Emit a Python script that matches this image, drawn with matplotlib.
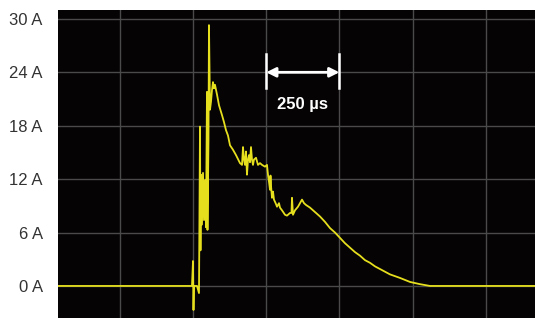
import matplotlib
matplotlib.use("Agg")
import matplotlib.pyplot as plt

# time in microseconds (0 = trigger gridline), current in amperes
time_us = [-470, -3.4, 0.0, 1.7, 3.4, 13.7, 20.5, 23.9, 25.6, 27.3, 30.7, 34.2, 37.6, 41.0, 44.4,
           47.8, 49.5, 52.9, 54.6, 58.1, 61.5, 64.9, 68.3, 71.7, 75.1, 82.0, 88.8, 99.0, 105.9,
           112.7, 119.5, 126.4, 136.6, 146.9, 160.5, 167.4, 170.8, 174.2, 177.6, 181.0, 184.4,
           187.9, 191.3, 194.7, 198.1, 201.5, 204.9, 208.3, 215.2, 222.0, 228.8, 235.7, 245.9,
           252.7, 256.1, 259.6, 263.0, 264.7, 266.4, 269.8, 273.2, 276.6, 283.5, 286.9, 293.7,
           297.1, 303.9, 314.2, 321.0, 331.3, 336.4, 338.1, 341.5, 348.4, 358.6, 365.4, 372.3,
           379.1, 385.9, 399.6, 416.7, 433.8, 450.8, 467.9, 485.0, 502.0, 519.1, 536.2, 553.3,
           570.4, 587.4, 604.5, 621.6, 638.7, 672.8, 707.0, 741.1, 775.3, 809.4, 1180]
current_a = [0, 0, 2.8, -2.7, 0, 0, -0.8, 17.9, 4.0, 12.5, 6.9, 12.7, 7.4, 11.9, 6.6,
             21.8, 6.3, 16.4, 29.3, 19.8, 20.7, 22.0, 22.9, 22.2, 22.6, 21.5, 20.3, 19.2, 18.4,
             17.5, 16.9, 15.8, 15.3, 14.7, 13.8, 13.6, 15.6, 14.2, 13.6, 15.1, 12.5,
             14.2, 14.7, 13.9, 15.6, 14.2, 13.6, 14.2, 14.4, 13.6, 13.8, 13.6, 13.4,
             13.6, 12.5, 11.7, 10.8, 12.4, 11.3, 9.9, 10.6, 9.7, 9.2, 8.9, 9.3,
             8.8, 8.5, 8.0, 7.9, 8.2, 8.2, 9.9, 8.0, 8.5, 8.9, 9.3, 9.7,
             9.3, 9.1, 8.8, 8.3, 7.8, 7.2, 6.5, 6.0, 5.4, 4.8, 4.3, 3.8,
             3.4, 2.9, 2.6, 2.2, 1.9, 1.3, 0.9, 0.45, 0.2, 0, 0]

y_ticks = [0, 6, 12, 18, 24, 30]
y_tick_labels = ["0 A", "6 A", "12 A", "18 A", "24 A", "30 A"]
x_grid = [-250, 0, 250, 500, 750, 1000]

scale_start_us = 250
scale_end_us = 500
scale_label = "250 µs"

fig = plt.figure(figsize=(5.35, 3.18), dpi=100)
ax = fig.add_axes([58 / 535, 0.0, 1 - 58 / 535, 308 / 318])
ax.set_facecolor("#050303")

ax.set_xlim(-461, 1168)
ax.set_ylim(-3.6, 31.0)

for xv in x_grid:
    ax.axvline(xv, color="#4a4a4a", lw=1.0, zorder=1)
for yv in y_ticks:
    ax.axhline(yv, color="#4a4a4a", lw=1.0, zorder=1)

ax.plot(time_us, current_a, color="#e6df1e", lw=1.3, zorder=3)

ax.set_xticks([])
ax.set_yticks(y_ticks)
ax.set_yticklabels(y_tick_labels, fontsize=12, color="#333333", family="Liberation Sans")
ax.tick_params(axis="y", length=0, pad=11)
for s in ax.spines.values():
    s.set_visible(False)

# scale marker
ax.annotate("", xy=(scale_end_us, 24), xytext=(scale_start_us, 24),
            arrowprops=dict(arrowstyle="<|-|>", color="white", lw=2,
                            mutation_scale=14, shrinkA=0, shrinkB=0), zorder=5)
ax.plot([scale_start_us, scale_start_us], [22.2, 26.1], color="white", lw=1.8, zorder=5)
ax.plot([scale_end_us, scale_end_us], [22.2, 26.1], color="white", lw=1.8, zorder=5)
ax.text((scale_start_us + scale_end_us) / 2, 20.4, scale_label, color="white",
        fontsize=12, fontweight="bold", family="Liberation Sans",
        ha="center", va="center", zorder=5)

fig.savefig("out.png", dpi=100, facecolor="white")
